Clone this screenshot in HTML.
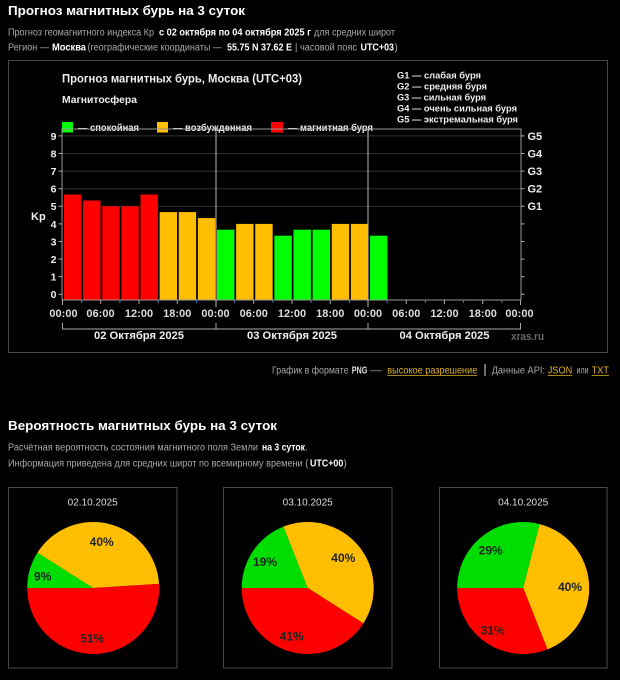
<!DOCTYPE html>
<html><head><meta charset="utf-8">
<style>
html,body{margin:0;padding:0;background:#000;}
svg{display:block;}
text{font-family:"Liberation Sans","DejaVu Sans",sans-serif;}
.g{fill:#a8a8a8;font-size:10px;}
.w{fill:#fff;font-size:10px;font-weight:bold;}
.b{font-weight:bold;}
.y{fill:#dcb020;font-size:10px;}
</style></head>
<body>
<svg width="620" height="680" viewBox="0 0 620 680" xmlns="http://www.w3.org/2000/svg">
<rect x="0" y="0" width="620" height="680" fill="#000"/>

<!-- Header -->
<text x="8" y="15" fill="#fff" font-size="13" font-weight="bold" textLength="237" lengthAdjust="spacingAndGlyphs">Прогноз магнитных бурь на 3 суток</text>

<text class="g" x="8" y="35.5" textLength="146" lengthAdjust="spacingAndGlyphs">Прогноз геомагнитного индекса Кр</text>
<text class="w" x="159" y="35.5" textLength="152" lengthAdjust="spacingAndGlyphs">с 02 октября по 04 октября 2025 г</text>
<text class="g" x="314" y="35.5" textLength="81" lengthAdjust="spacingAndGlyphs">для средних широт</text>

<text class="g" x="8" y="50.5" textLength="41" lengthAdjust="spacingAndGlyphs">Регион —</text>
<text class="w" x="52" y="50.5" textLength="34" lengthAdjust="spacingAndGlyphs">Москва</text>
<text class="g" x="87.5" y="50.5" textLength="134.5" lengthAdjust="spacingAndGlyphs">(географические координаты —</text>
<text class="w" x="227" y="50.5" textLength="65" lengthAdjust="spacingAndGlyphs">55.75 N 37.62 E</text>
<text class="g" x="295" y="50.5" textLength="62" lengthAdjust="spacingAndGlyphs">| часовой пояс</text>
<text class="w" x="360.5" y="50.5" textLength="33.5" lengthAdjust="spacingAndGlyphs">UTC+03</text>
<text class="g" x="394.5" y="50.5">)</text>

<!-- Chart box -->
<rect x="8.5" y="60.5" width="599" height="292" fill="#000" stroke="#4a4a4a" stroke-width="1"/>

<text x="62" y="82.5" fill="#eee" font-size="12" font-weight="bold" textLength="240" lengthAdjust="spacingAndGlyphs">Прогноз магнитных бурь, Москва (UTC+03)</text>
<text x="62" y="103" fill="#eee" font-size="10.5" font-weight="bold" textLength="75" lengthAdjust="spacingAndGlyphs">Магнитосфера</text>

<rect x="62" y="122" width="11" height="10.5" fill="#00ff00"/>
<text x="78" y="131" fill="#eee" font-size="10" font-weight="bold" textLength="61" lengthAdjust="spacingAndGlyphs">— спокойная</text>
<rect x="157" y="122" width="11" height="10.5" fill="#ffbf00"/>
<text x="173" y="131" fill="#eee" font-size="10" font-weight="bold" textLength="79" lengthAdjust="spacingAndGlyphs">— возбужденная</text>
<rect x="271" y="122" width="12" height="10.5" fill="#ff0000"/>
<text x="288" y="131" fill="#eee" font-size="10" font-weight="bold" textLength="85" lengthAdjust="spacingAndGlyphs">— магнитная буря</text>

<text x="397" y="78.5" fill="#eee" font-size="9.5" font-weight="bold" textLength="84" lengthAdjust="spacingAndGlyphs">G1 — слабая буря</text>
<text x="397" y="89.5" fill="#eee" font-size="9.5" font-weight="bold" textLength="90" lengthAdjust="spacingAndGlyphs">G2 — средняя буря</text>
<text x="397" y="100.5" fill="#eee" font-size="9.5" font-weight="bold" textLength="89" lengthAdjust="spacingAndGlyphs">G3 — сильная буря</text>
<text x="397" y="111.5" fill="#eee" font-size="9.5" font-weight="bold" textLength="120" lengthAdjust="spacingAndGlyphs">G4 — очень сильная буря</text>
<text x="397" y="122.5" fill="#eee" font-size="9.5" font-weight="bold" textLength="121" lengthAdjust="spacingAndGlyphs">G5 — экстремальная буря</text>

<!-- gridlines -->
<g stroke="#333" stroke-width="1">
<line x1="62" y1="135.9" x2="521" y2="135.9"/>
<line x1="62" y1="153.5" x2="521" y2="153.5"/>
<line x1="62" y1="171.1" x2="521" y2="171.1"/>
<line x1="62" y1="188.7" x2="521" y2="188.7"/>
<line x1="62" y1="206.3" x2="521" y2="206.3"/>
</g>

<!-- bars -->
<g>
<rect x="64" y="194.5" width="17.4" height="105.5" fill="#ff0000"/>
<rect x="83.125" y="200.5" width="17.4" height="99.5" fill="#ff0000"/>
<rect x="102.25" y="206.3" width="17.4" height="93.7" fill="#ff0000"/>
<rect x="121.375" y="206.3" width="17.4" height="93.7" fill="#ff0000"/>
<rect x="140.5" y="194.5" width="17.4" height="105.5" fill="#ff0000"/>
<rect x="159.625" y="212.1" width="17.4" height="87.9" fill="#ffbf00"/>
<rect x="178.75" y="212.1" width="17.4" height="87.9" fill="#ffbf00"/>
<rect x="197.875" y="218.1" width="17.4" height="81.9" fill="#ffbf00"/>
<rect x="217" y="229.7" width="17.4" height="70.3" fill="#00ff00"/>
<rect x="236.125" y="223.9" width="17.4" height="76.1" fill="#ffbf00"/>
<rect x="255.25" y="223.9" width="17.4" height="76.1" fill="#ffbf00"/>
<rect x="274.375" y="235.7" width="17.4" height="64.3" fill="#00ff00"/>
<rect x="293.5" y="229.7" width="17.4" height="70.3" fill="#00ff00"/>
<rect x="312.625" y="229.7" width="17.4" height="70.3" fill="#00ff00"/>
<rect x="331.75" y="223.9" width="17.4" height="76.1" fill="#ffbf00"/>
<rect x="350.875" y="223.9" width="17.4" height="76.1" fill="#ffbf00"/>
<rect x="370" y="235.7" width="17.4" height="64.3" fill="#00ff00"/>
</g>

<!-- plot frame -->
<rect x="62" y="129" width="459" height="171" fill="none" stroke="#999" stroke-width="1"/>
<line x1="216" y1="129" x2="216" y2="307" stroke="#bbb" stroke-width="1"/>
<line x1="368" y1="129" x2="368" y2="307" stroke="#bbb" stroke-width="1"/>

<!-- y ticks -->
<g stroke="#aaa" stroke-width="1">
<line x1="58.5" y1="294.3" x2="62" y2="294.3"/><line x1="521" y1="294.3" x2="524.5" y2="294.3"/>
<line x1="58.5" y1="276.7" x2="62" y2="276.7"/><line x1="521" y1="276.7" x2="524.5" y2="276.7"/>
<line x1="58.5" y1="259.1" x2="62" y2="259.1"/><line x1="521" y1="259.1" x2="524.5" y2="259.1"/>
<line x1="58.5" y1="241.5" x2="62" y2="241.5"/><line x1="521" y1="241.5" x2="524.5" y2="241.5"/>
<line x1="58.5" y1="223.9" x2="62" y2="223.9"/><line x1="521" y1="223.9" x2="524.5" y2="223.9"/>
<line x1="58.5" y1="206.3" x2="62" y2="206.3"/><line x1="521" y1="206.3" x2="524.5" y2="206.3"/>
<line x1="58.5" y1="188.7" x2="62" y2="188.7"/><line x1="521" y1="188.7" x2="524.5" y2="188.7"/>
<line x1="58.5" y1="171.1" x2="62" y2="171.1"/><line x1="521" y1="171.1" x2="524.5" y2="171.1"/>
<line x1="58.5" y1="153.5" x2="62" y2="153.5"/><line x1="521" y1="153.5" x2="524.5" y2="153.5"/>
<line x1="58.5" y1="135.9" x2="62" y2="135.9"/><line x1="521" y1="135.9" x2="524.5" y2="135.9"/>
</g>

<g fill="#eee" font-size="10.5" font-weight="bold" text-anchor="end">
<text x="56.5" y="298.2">0</text>
<text x="56.5" y="280.6">1</text>
<text x="56.5" y="263">2</text>
<text x="56.5" y="245.4">3</text>
<text x="56.5" y="227.8">4</text>
<text x="56.5" y="210.2">5</text>
<text x="56.5" y="192.6">6</text>
<text x="56.5" y="175">7</text>
<text x="56.5" y="157.4">8</text>
<text x="56.5" y="139.8">9</text>
</g>
<text x="31" y="219.8" fill="#eee" font-size="11" font-weight="bold">Kp</text>

<g fill="#eee" font-size="11" font-weight="bold">
<text x="527.5" y="139.8">G5</text>
<text x="527.5" y="157.4">G4</text>
<text x="527.5" y="175">G3</text>
<text x="527.5" y="192.6">G2</text>
<text x="527.5" y="210.2">G1</text>
</g>

<!-- x ticks -->
<g stroke="#aaa" stroke-width="1">
<line x1="62.5" y1="300" x2="62.5" y2="305"/>
<line x1="100.75" y1="300" x2="100.75" y2="304"/>
<line x1="139" y1="300" x2="139" y2="304"/>
<line x1="177.25" y1="300" x2="177.25" y2="304"/>
<line x1="253.75" y1="300" x2="253.75" y2="304"/>
<line x1="292" y1="300" x2="292" y2="304"/>
<line x1="330.25" y1="300" x2="330.25" y2="304"/>
<line x1="406.25" y1="300" x2="406.25" y2="304"/>
<line x1="444.5" y1="300" x2="444.5" y2="304"/>
<line x1="482.75" y1="300" x2="482.75" y2="304"/>
<line x1="520.5" y1="300" x2="520.5" y2="305"/>
</g>
<g stroke="#5577bb" stroke-width="1">
<line x1="81.6" y1="300" x2="81.6" y2="303"/>
<line x1="119.9" y1="300" x2="119.9" y2="303"/>
<line x1="158.1" y1="300" x2="158.1" y2="303"/>
<line x1="196.4" y1="300" x2="196.4" y2="303"/>
<line x1="234.6" y1="300" x2="234.6" y2="303"/>
<line x1="272.9" y1="300" x2="272.9" y2="303"/>
<line x1="311.1" y1="300" x2="311.1" y2="303"/>
<line x1="349.4" y1="300" x2="349.4" y2="303"/>
<line x1="387.1" y1="300" x2="387.1" y2="303"/>
<line x1="425.4" y1="300" x2="425.4" y2="303"/>
<line x1="463.6" y1="300" x2="463.6" y2="303"/>
<line x1="501.9" y1="300" x2="501.9" y2="303"/>
</g>

<g fill="#ddd" font-size="11" font-weight="bold" text-anchor="middle">
<text x="63.5" y="317">00:00</text>
<text x="100.5" y="317">06:00</text>
<text x="139" y="317">12:00</text>
<text x="177.25" y="317">18:00</text>
<text x="215.5" y="317">00:00</text>
<text x="253.75" y="317">06:00</text>
<text x="292" y="317">12:00</text>
<text x="330.25" y="317">18:00</text>
<text x="368" y="317">00:00</text>
<text x="406.25" y="317">06:00</text>
<text x="444.5" y="317">12:00</text>
<text x="482.75" y="317">18:00</text>
<text x="519.5" y="317">00:00</text>
</g>

<!-- brackets -->
<g stroke="#aaa" stroke-width="1">
<line x1="62" y1="329" x2="521" y2="329"/>
<line x1="62.5" y1="323" x2="62.5" y2="329"/>
<line x1="216" y1="323" x2="216" y2="329"/>
<line x1="368" y1="323" x2="368" y2="329"/>
<line x1="520.5" y1="323" x2="520.5" y2="329"/>
</g>
<g fill="#eee" font-size="11" font-weight="bold" text-anchor="middle">
<text x="139" y="339" textLength="90" lengthAdjust="spacingAndGlyphs">02 Октября 2025</text>
<text x="292" y="339" textLength="90" lengthAdjust="spacingAndGlyphs">03 Октября 2025</text>
<text x="444.5" y="339" textLength="90" lengthAdjust="spacingAndGlyphs">04 Октября 2025</text>
</g>
<text x="511" y="340" fill="#6a6a6a" font-size="11" font-weight="bold" textLength="33" lengthAdjust="spacingAndGlyphs">xras.ru</text>

<!-- links line -->
<text class="g" x="272" y="373.5" textLength="76.5" lengthAdjust="spacingAndGlyphs">График в формате</text>
<text x="351.7" y="373.5" fill="#ddd" font-size="10" font-weight="bold" textLength="15.6" lengthAdjust="spacingAndGlyphs">PNG</text>
<text class="g" x="370" y="373.5" textLength="11.7" lengthAdjust="spacingAndGlyphs">—</text>
<text class="y" x="387.3" y="373.5" textLength="90" lengthAdjust="spacingAndGlyphs">высокое разрешение</text>
<line x1="387.3" y1="375.5" x2="477.3" y2="375.5" stroke="#dcb020" stroke-width="0.8"/>
<line x1="485" y1="364" x2="485" y2="376" stroke="#ddd" stroke-width="1"/>
<text class="g" x="491.7" y="373.5" textLength="53.3" lengthAdjust="spacingAndGlyphs">Данные API:</text>
<text class="y" x="547.7" y="373.5" textLength="24.6" lengthAdjust="spacingAndGlyphs">JSON</text>
<line x1="547.7" y1="375.5" x2="572.3" y2="375.5" stroke="#dcb020" stroke-width="0.8"/>
<text class="g" x="576.5" y="373.5" textLength="12" lengthAdjust="spacingAndGlyphs">или</text>
<text class="y" x="591.7" y="373.5" textLength="17.3" lengthAdjust="spacingAndGlyphs">TXT</text>
<line x1="591.7" y1="375.5" x2="609" y2="375.5" stroke="#dcb020" stroke-width="0.8"/>

<!-- Section 2 -->
<text x="8" y="430" fill="#fff" font-size="13" font-weight="bold" textLength="269" lengthAdjust="spacingAndGlyphs">Вероятность магнитных бурь на 3 суток</text>
<text class="g" x="8" y="450.5" textLength="250" lengthAdjust="spacingAndGlyphs">Расчётная вероятность состояния магнитного поля Земли</text>
<text class="w" x="262" y="450.5" textLength="43" lengthAdjust="spacingAndGlyphs">на 3 суток</text>
<text class="g" x="305" y="450.5">.</text>
<text class="g" x="8" y="466.5" textLength="300.3" lengthAdjust="spacingAndGlyphs">Информация приведена для средних широт по всемирному времени (</text>
<text class="w" x="310" y="466.5" textLength="33.3" lengthAdjust="spacingAndGlyphs">UTC+00</text>
<text class="g" x="343.5" y="466.5">)</text>

<!-- Pie boxes -->
<rect x="8.5" y="487.5" width="168.5" height="180.5" fill="#000" stroke="#4a4a4a" stroke-width="1"/>
<rect x="223.5" y="487.5" width="168.5" height="180.5" fill="#000" stroke="#4a4a4a" stroke-width="1"/>
<rect x="439.5" y="487.5" width="167.5" height="180.5" fill="#000" stroke="#4a4a4a" stroke-width="1"/>

<g fill="#ddd" font-size="10" text-anchor="middle">
<text x="92.7" y="505.5">02.10.2025</text>
<text x="307.7" y="505.5">03.10.2025</text>
<text x="523.2" y="505.5">04.10.2025</text>
</g>

<!-- Pie 1 -->
<path d="M93.2,588 L27.2,588 A66,66 0 0 1 37.48,552.64 Z" fill="#00dd00"/>
<path d="M93.2,588 L37.48,552.64 A66,66 0 0 1 159.07,583.86 Z" fill="#ffbf00"/>
<path d="M93.2,588 L159.07,583.86 A66,66 0 1 1 27.2,588 Z" fill="#ff0000"/>
<!-- Pie 2 -->
<path d="M307.7,588 L241.7,588 A66,66 0 0 1 283.40,526.63 Z" fill="#00dd00"/>
<path d="M307.7,588 L283.40,526.63 A66,66 0 0 1 363.42,623.36 Z" fill="#ffbf00"/>
<path d="M307.7,588 L363.42,623.36 A66,66 0 0 1 241.7,588 Z" fill="#ff0000"/>
<!-- Pie 3 -->
<path d="M523.2,588 L457.2,588 A66,66 0 0 1 539.61,524.07 Z" fill="#00dd00"/>
<path d="M523.2,588 L539.61,524.07 A66,66 0 0 1 547.50,649.37 Z" fill="#ffbf00"/>
<path d="M523.2,588 L547.50,649.37 A66,66 0 0 1 457.2,588 Z" fill="#ff0000"/>

<g fill="#222" font-size="12" font-weight="bold" text-anchor="middle">
<text x="101.7" y="546">40%</text>
<text x="42.7" y="580.3">9%</text>
<text x="92.3" y="642.6">51%</text>
<text x="265" y="566">19%</text>
<text x="343.3" y="562">40%</text>
<text x="291.7" y="640.3">41%</text>
<text x="490.7" y="554.3">29%</text>
<text x="570" y="591">40%</text>
<text x="492.7" y="634.3">31%</text>
</g>
</svg>
</body></html>
